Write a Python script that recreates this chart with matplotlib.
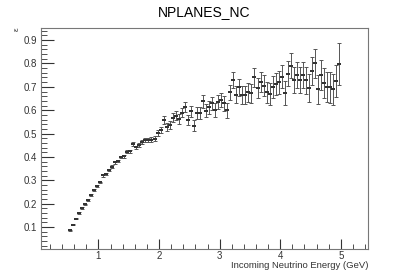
import numpy as np
import matplotlib
matplotlib.use("Agg")
import matplotlib.pyplot as plt
from matplotlib.ticker import MultipleLocator, FormatStrFormatter

# bin centres (GeV), 0.05 GeV bins from 0.5 to 5.0
energy = np.arange(0.525, 5.0, 0.05)

eff = [0.086, 0.110, 0.136, 0.160, 0.181, 0.197, 0.217, 0.237, 0.257, 0.277,
       0.291, 0.321, 0.328, 0.343, 0.359, 0.377, 0.383, 0.400, 0.403, 0.423,
       0.424, 0.456, 0.441, 0.452, 0.465, 0.473, 0.473, 0.473, 0.478, 0.503,
       0.516, 0.558, 0.527, 0.538, 0.567, 0.577, 0.563, 0.590, 0.615, 0.558,
       0.595, 0.534, 0.587, 0.587, 0.638, 0.598, 0.612, 0.629, 0.600, 0.634,
       0.644, 0.629, 0.600, 0.676, 0.729, 0.666, 0.698, 0.666, 0.666, 0.676,
       0.672, 0.740, 0.695, 0.719, 0.705, 0.676, 0.669, 0.698, 0.712, 0.719,
       0.743, 0.674, 0.757, 0.790, 0.729, 0.750, 0.729, 0.751, 0.729, 0.695,
       0.766, 0.800, 0.690, 0.750, 0.715, 0.700, 0.698, 0.690, 0.726, 0.797]

err = [0.003, 0.003, 0.003, 0.003, 0.003, 0.003, 0.004, 0.004, 0.004, 0.004,
       0.004, 0.005, 0.005, 0.005, 0.005, 0.006, 0.006, 0.006, 0.007, 0.007,
       0.007, 0.008, 0.008, 0.009, 0.009, 0.010, 0.010, 0.011, 0.011, 0.012,
       0.013, 0.017, 0.017, 0.018, 0.019, 0.019, 0.020, 0.021, 0.022, 0.022,
       0.023, 0.024, 0.025, 0.025, 0.027, 0.027, 0.028, 0.029, 0.030, 0.030,
       0.031, 0.032, 0.033, 0.034, 0.035, 0.036, 0.037, 0.038, 0.038, 0.039,
       0.040, 0.041, 0.042, 0.043, 0.044, 0.045, 0.046, 0.047, 0.048, 0.049,
       0.050, 0.051, 0.052, 0.053, 0.054, 0.055, 0.056, 0.057, 0.058, 0.059,
       0.060, 0.061, 0.062, 0.063, 0.064, 0.065, 0.066, 0.067, 0.068, 0.090]

plt.rcParams["font.family"] = ["Liberation Sans", "DejaVu Sans"]

fig = plt.figure(figsize=(4.09, 2.77), dpi=100)
ax = fig.add_axes([0.1, 0.1, 0.8, 0.8])

# small flat rectangle marker, like the ROOT markers
dash = [(-1.6, -1), (1.6, -1), (1.6, 1), (-1.6, 1), (-1.6, -1)]
ax.errorbar(energy, eff, yerr=err, fmt="none", ecolor="#555555",
            elinewidth=0.7, capsize=1.2, capthick=0.7)
ax.plot(energy, eff, ls="none", marker=dash, ms=3.2, color="#333333",
        mew=0)

ax.set_xlim(0.05, 5.45)
ax.set_ylim(0.005, 0.953)

ax.xaxis.set_major_locator(MultipleLocator(1))
ax.xaxis.set_minor_locator(MultipleLocator(0.2))
ax.yaxis.set_major_locator(MultipleLocator(0.1))
ax.yaxis.set_minor_locator(MultipleLocator(0.02))
ax.yaxis.set_major_formatter(FormatStrFormatter("%.1f"))
ax.xaxis.set_major_formatter(FormatStrFormatter("%d"))

ax.tick_params(which="both", direction="in", labelsize=7, colors="#333333",
               top=False, right=False)
ax.tick_params(axis="y", which="major", length=9, width=0.8, pad=3)
ax.tick_params(axis="y", which="minor", length=4.5, width=0.6)
ax.tick_params(axis="x", which="major", length=7, width=0.8, pad=1.5)
ax.tick_params(axis="x", which="minor", length=3.5, width=0.6)

for s in ax.spines.values():
    s.set_color("#777777")
    s.set_linewidth(0.8)

fig.text(0.5, 0.957, "NPLANES_NC", ha="center", va="center", fontsize=10)
fig.text(0.9, 0.042, "Incoming Neutrino Energy (GeV)", ha="right",
         va="center", fontsize=6.8, color="#333333")
fig.text(0.042, 0.9, "ε", rotation=90, ha="center", va="top",
         fontsize=6, color="#333333")

fig.savefig("out.png", dpi=100)
